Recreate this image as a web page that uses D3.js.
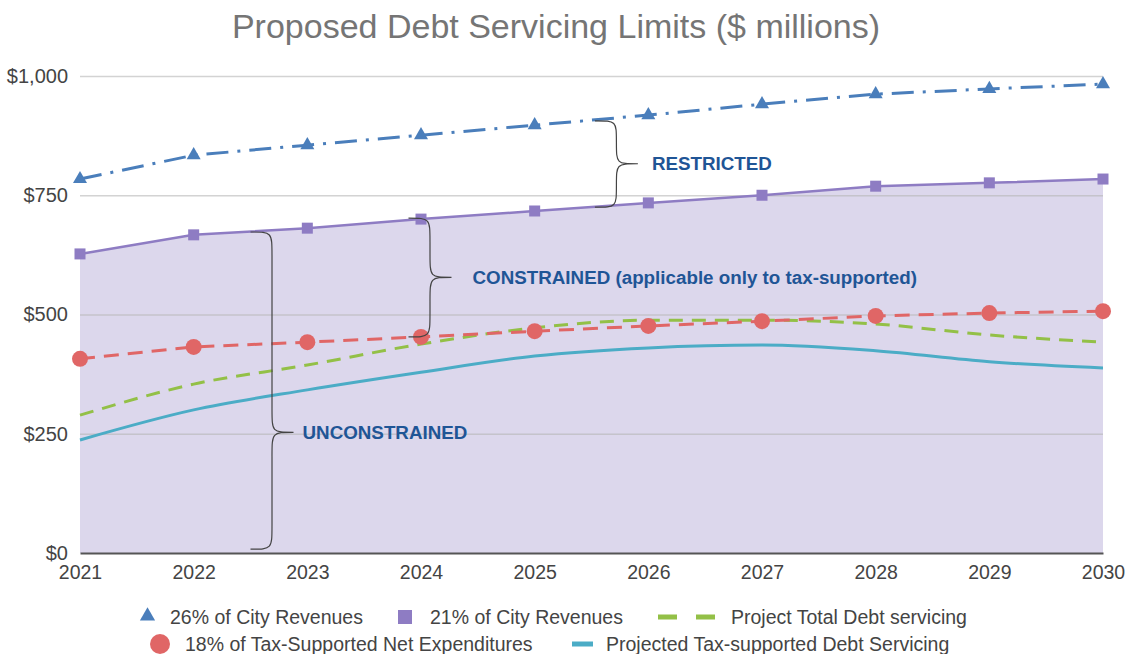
<!DOCTYPE html>
<html>
<head>
<meta charset="utf-8">
<script src="https://cdn.jsdelivr.net/npm/d3@7"></script>
<style>
  body { margin: 0; background: #fff; }
  text { font-family: "Liberation Sans", Arial, sans-serif; }
</style>
</head>
<body>
<div id="chart"></div>
<script>
// data ($ millions)
const years = [2021, 2022, 2023, 2024, 2025, 2026, 2027, 2028, 2029, 2030];
const cityRev26 = [784, 834, 855, 876, 897, 918, 941, 962, 973, 983];
const cityRev21 = [627, 667, 681, 700, 717, 734, 750, 769, 776, 784];
const taxNet18 = [407, 432, 442, 453, 465, 476, 486, 497, 503, 507];
const totalDebt = [289, 354, 394, 438, 472, 488, 488, 480, 457, 442];
const taxDebt = [237, 300, 342, 379, 413, 430, 436, 424, 401, 388];
const yTicks = [0, 250, 500, 750, 1000];

// brace annotations: label, year position, value span, value at the tip
const braceLabels = ["RESTRICTED", "CONSTRAINED (applicable only to tax-supported)", "UNCONSTRAINED"];
const braceYears = [2025.53, 2023.89, 2022.5];
const braceSpans = [[725, 906], [453, 702], [8, 673]];
const braceTips = [816, 578, 253];
const braceLabelGap = [14, 21, 9];

const W = 1131, H = 654;
const margin = {top: 76, right: 28, bottom: 101, left: 80};

const svg = d3.select("#chart").append("svg")
  .attr("width", W).attr("height", H);

const x = d3.scaleLinear().domain([2021, 2030]).range([margin.left, W - margin.right]);
const y = d3.scaleLinear().domain([0, 1000]).range([H - margin.bottom, margin.top]);

// title
svg.append("text")
  .attr("x", 556).attr("y", 38)
  .attr("text-anchor", "middle")
  .attr("font-size", 34)
  .attr("fill", "#757575")
  .text("Proposed Debt Servicing Limits ($ millions)");

// shaded area under 21% line
svg.append("path")
  .datum(years)
  .attr("fill", "#dcd7ec")
  .attr("d", d3.area()
    .x(d => x(d))
    .y0(y(0))
    .y1((d, i) => y(cityRev21[i])));

// grid
svg.append("g")
  .attr("transform", `translate(${margin.left},0)`)
  .call(d3.axisLeft(y).tickValues(yTicks.slice(1)).tickSize(-(W - margin.left - margin.right)).tickFormat(""))
  .call(g => g.select(".domain").remove())
  .call(g => g.selectAll("line").attr("stroke", "#b5b5b5").attr("stroke-opacity", 0.6).attr("stroke-width", 1.5));

// y axis labels
svg.append("g")
  .attr("transform", `translate(${margin.left - 9},0)`)
  .call(d3.axisLeft(y).tickValues(yTicks).tickSize(0).tickFormat(d => "$" + d3.format(",")(d)))
  .call(g => g.select(".domain").remove())
  .call(g => g.selectAll("text").attr("font-size", 20).attr("fill", "#444")
    .style("font-family", '"Liberation Sans", Arial, sans-serif'));

// x axis
svg.append("g")
  .attr("transform", `translate(0,${y(0)})`)
  .call(d3.axisBottom(x).tickValues(years).tickSize(0).tickPadding(12).tickFormat(d3.format("d")))
  .call(g => g.select(".domain").attr("stroke", "#555").attr("stroke-width", 2))
  .call(g => g.selectAll("text").attr("font-size", 19.5).attr("fill", "#444")
    .style("font-family", '"Liberation Sans", Arial, sans-serif'));

function drawLine(vals, color, width, dash, curve) {
  svg.append("path")
    .datum(vals)
    .attr("fill", "none")
    .attr("stroke", color)
    .attr("stroke-width", width)
    .attr("stroke-dasharray", dash)
    .attr("d", d3.line()
      .x((d, i) => x(years[i]))
      .y(d => y(d))
      .curve(curve || d3.curveLinear));
}

drawLine(taxDebt, "#4bacc6", 3, null, d3.curveMonotoneX);
drawLine(totalDebt, "#93c047", 3, "14,9", d3.curveMonotoneX);
drawLine(taxNet18, "#e06666", 3, "15,9");
drawLine(cityRev21, "#8e7cc3", 2.5, null);
drawLine(cityRev26, "#4a7ebb", 3, "22,9,3,9");

// markers
svg.append("g").selectAll("path")
  .data(cityRev26)
  .join("path")
  .attr("transform", (d, i) => `translate(${x(years[i])},${y(d)})`)
  .attr("d", d3.symbol(d3.symbolTriangle, 85))
  .attr("fill", "#4a7ebb");

svg.append("g").selectAll("rect")
  .data(cityRev21)
  .join("rect")
  .attr("x", (d, i) => x(years[i]) - 5.5)
  .attr("y", d => y(d) - 5.5)
  .attr("width", 11).attr("height", 11)
  .attr("fill", "#8e7cc3");

svg.append("g").selectAll("circle")
  .data(taxNet18)
  .join("circle")
  .attr("cx", (d, i) => x(years[i]))
  .attr("cy", d => y(d))
  .attr("r", 8)
  .attr("fill", "#e06666");

// braces
function bracePath(x0, y0, y1, ym, w) {
  const xm = x0 + w * 0.5, xt = x0 + w;
  const r1 = Math.min(24, (ym - y0) / 2), r2 = Math.min(24, (y1 - ym) / 2);
  return `M${x0},${y0} C${xm},${y0} ${xm},${y0} ${xm},${y0 + r1} L${xm},${ym - r1} ` +
    `C${xm},${ym} ${xm},${ym} ${xt},${ym} C${xm},${ym} ${xm},${ym} ${xm},${ym + r2} ` +
    `L${xm},${y1 - r2} C${xm},${y1} ${xm},${y1} ${x0},${y1}`;
}

braceLabels.forEach((label, i) => {
  const bx = x(braceYears[i]);
  const top = y(braceSpans[i][1]), bot = y(braceSpans[i][0]), tip = y(braceTips[i]);
  svg.append("path")
    .attr("d", bracePath(bx, top, bot, tip, 43))
    .attr("fill", "none")
    .attr("stroke", "#444")
    .attr("stroke-width", 1.2);
  svg.append("text")
    .attr("x", bx + 43 + braceLabelGap[i])
    .attr("y", tip)
    .attr("dy", "0.35em")
    .attr("font-size", 18.8)
    .attr("font-weight", "bold")
    .attr("fill", "#1f5596")
    .text(label);
});

// legend
const legend = svg.append("g").attr("font-size", 19.5).attr("fill", "#444");
const row1 = 617, row2 = 644;

legend.append("path")
  .attr("transform", `translate(147.5,${row1 - 1})`)
  .attr("d", d3.symbol(d3.symbolTriangle, 100))
  .attr("fill", "#4a7ebb");
legend.append("text").attr("x", 170).attr("y", row1).attr("dy", "0.35em").text("26% of City Revenues");

legend.append("rect")
  .attr("x", 398).attr("y", row1 - 7).attr("width", 14).attr("height", 14)
  .attr("fill", "#8e7cc3");
legend.append("text").attr("x", 430).attr("y", row1).attr("dy", "0.35em").text("21% of City Revenues");

legend.append("line")
  .attr("x1", 658).attr("x2", 717).attr("y1", row1).attr("y2", row1)
  .attr("stroke", "#93c047").attr("stroke-width", 5).attr("stroke-dasharray", "19,19");
legend.append("text").attr("x", 731).attr("y", row1).attr("dy", "0.35em").text("Project Total Debt servicing");

legend.append("circle")
  .attr("cx", 160).attr("cy", row2).attr("r", 10)
  .attr("fill", "#e06666");
legend.append("text").attr("x", 185).attr("y", row2).attr("dy", "0.35em").text("18% of Tax-Supported Net Expenditures");

legend.append("line")
  .attr("x1", 572).attr("x2", 593).attr("y1", row2).attr("y2", row2)
  .attr("stroke", "#4bacc6").attr("stroke-width", 5);
legend.append("text").attr("x", 606).attr("y", row2).attr("dy", "0.35em").text("Projected Tax-supported Debt Servicing");
</script>
</body>
</html>
